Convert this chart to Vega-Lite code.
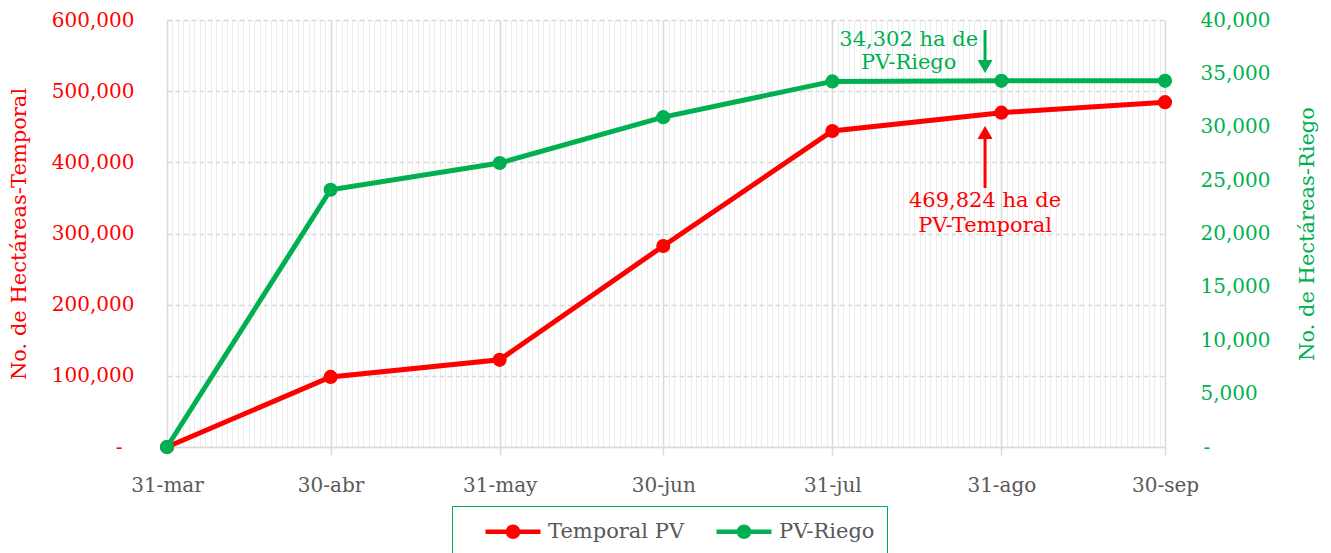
{
  "$schema": "https://vega.github.io/schema/vega-lite/v6.json",
  "width": 998,
  "height": 427,
  "padding": {"left": 8, "top": 10, "right": 2, "bottom": 0},
  "config": {"font": "DejaVu Serif", "view": {"stroke": null}, "axis": {"titleFontWeight": "normal"}},
  "datasets": {
    "temporal": [
      {"fecha": "2023-03-31", "serie": "Temporal PV", "valor": 0},
      {"fecha": "2023-04-30", "serie": "Temporal PV", "valor": 98500},
      {"fecha": "2023-05-31", "serie": "Temporal PV", "valor": 122500},
      {"fecha": "2023-06-30", "serie": "Temporal PV", "valor": 282500},
      {"fecha": "2023-07-31", "serie": "Temporal PV", "valor": 444000},
      {"fecha": "2023-08-31", "serie": "Temporal PV", "valor": 469824},
      {"fecha": "2023-09-30", "serie": "Temporal PV", "valor": 484500}
    ],
    "riego": [
      {"fecha": "2023-03-31", "serie": "PV-Riego", "valor": 0},
      {"fecha": "2023-04-30", "serie": "PV-Riego", "valor": 24100},
      {"fecha": "2023-05-31", "serie": "PV-Riego", "valor": 26600},
      {"fecha": "2023-06-30", "serie": "PV-Riego", "valor": 30900},
      {"fecha": "2023-07-31", "serie": "PV-Riego", "valor": 34250},
      {"fecha": "2023-08-31", "serie": "PV-Riego", "valor": 34302},
      {"fecha": "2023-09-30", "serie": "PV-Riego", "valor": 34302}
    ],
    "notaTemporal": [{"fecha": "2023-08-28", "valor": 345700, "texto": "469,824 ha de|PV-Temporal"}],
    "flechaTemporal": [{"fecha": "2023-08-28", "valor": 363900, "valor2": 441900}],
    "notaRiego": [{"fecha": "2023-08-14", "valor": 38130, "texto": "34,302 ha de|PV-Riego"}],
    "flechaRiego": [{"fecha": "2023-08-28", "valor": 39060, "valor2": 35650}]
  },
  "encoding": {
    "x": {
      "field": "fecha",
      "type": "temporal",
      "scale": {"type": "utc", "domain": [{"year": 2023, "month": 3, "date": 31, "utc": true}, {"year": 2023, "month": 9, "date": 30, "utc": true}]},
      "axis": {
        "title": null,
        "tickCount": {"interval": "day", "step": 1},
        "labelExpr": "utcdate(time(datum.value) + 86400000) == 1 ? (utcdate(datum.value) + '-' + ['ene','feb','mar','abr','may','jun','jul','ago','sep','oct','nov','dic'][utcmonth(datum.value)]) : ''",
        "labelOverlap": false,
        "labelFlush": false,
        "labelBound": false,
        "labelFontSize": 20,
        "labelColor": "#595959",
        "labelPadding": 20,
        "gridColor": {"condition": {"test": "utcdate(time(datum.value) + 86400000) == 1", "value": "#d9d9d9"}, "value": "#ececec"},
        "gridWidth": {"condition": {"test": "utcdate(time(datum.value) + 86400000) == 1", "value": 1.5}, "value": 1},
        "tickColor": {"condition": {"test": "utcdate(time(datum.value) + 86400000) == 1", "value": "#d9d9d9"}, "value": "transparent"},
        "tickSize": 8,
        "tickWidth": 1.5,
        "domainColor": "#d9d9d9",
        "domainWidth": 1.5
      }
    }
  },
  "layer": [
    {
      "encoding": {
        "y": {
          "field": "valor",
          "type": "quantitative",
          "scale": {"domain": [0, 600000], "nice": false},
          "axis": {
            "orient": "left",
            "title": "No. de Hectáreas-Temporal",
            "titleColor": "#FF0000",
            "titleFontSize": 21,
            "titlePadding": 22,
            "values": [0, 100000, 200000, 300000, 400000, 500000, 600000],
            "labelExpr": "datum.value == 0 ? '-' : format(datum.value, ',')",
            "labelColor": "#FF0000",
            "labelFontSize": 20,
            "labelPadding": {"condition": {"test": "datum.value == 0", "value": 45}, "value": 33},
            "ticks": false,
            "domain": false,
            "gridColor": "#d9d9d9",
            "gridDash": [5, 3],
            "gridWidth": 1.5
          }
        }
      },
      "layer": [
        {
          "data": {"name": "temporal"},
          "mark": {"type": "line", "strokeWidth": 5, "point": {"filled": true, "size": 200, "opacity": 1}},
          "encoding": {
            "color": {
              "field": "serie",
              "type": "nominal",
              "scale": {"domain": ["Temporal PV", "PV-Riego"], "range": ["#FF0000", "#00B050"]},
              "legend": {
                "orient": "none",
                "legendX": 285,
                "legendY": 486,
                "direction": "horizontal",
                "title": null,
                "labelFontSize": 21,
                "labelColor": "#595959",
                "labelOffset": 57,
                "symbolType": "M0.727,0H5.727M2.772,0a0.455,0.455 0 1,0 0.91,0a0.455,0.455 0 1,0 -0.91,0",
                "symbolSize": 484,
                "symbolStrokeWidth": 4.5,
                "strokeColor": "#00B050",
                "padding": 12,
                "columnPadding": 10,
                "encode": {"symbols": {"update": {"fill": {"scale": "color", "field": "value"}, "stroke": {"scale": "color", "field": "value"}, "opacity": {"value": 1}}}}
              }
            }
          }
        },
        {
          "data": {"name": "notaTemporal"},
          "mark": {"type": "text", "color": "#FF0000", "fontSize": 21, "lineBreak": "|", "lineHeight": 25, "align": "center", "baseline": "middle"},
          "encoding": {"text": {"field": "texto", "type": "nominal"}}
        },
        {
          "data": {"name": "flechaTemporal"},
          "mark": {"type": "rule", "color": "#FF0000", "strokeWidth": 3},
          "encoding": {"y2": {"field": "valor2"}}
        },
        {
          "data": {"name": "flechaTemporal"},
          "mark": {"type": "point", "shape": "triangle-up", "filled": true, "size": 225, "color": "#FF0000", "opacity": 1},
          "encoding": {"y": {"field": "valor2", "type": "quantitative"}}
        }
      ]
    },
    {
      "encoding": {
        "y": {
          "field": "valor",
          "type": "quantitative",
          "scale": {"domain": [0, 40000], "nice": false},
          "axis": {
            "orient": "right",
            "title": "No. de Hectáreas-Riego",
            "titleColor": "#00B050",
            "titleFontSize": 21,
            "titleAngle": 270,
            "titlePadding": 48,
            "values": [0, 5000, 10000, 15000, 20000, 25000, 30000, 35000, 40000],
            "labelExpr": "datum.value == 0 ? '-' : format(datum.value, ',')",
            "labelColor": "#00B050",
            "labelFontSize": 20,
            "labelPadding": {"condition": {"test": "datum.value == 0", "value": 38}, "value": 35},
            "ticks": false,
            "domain": false,
            "grid": false
          }
        }
      },
      "layer": [
        {
          "data": {"name": "riego"},
          "mark": {"type": "line", "strokeWidth": 5, "point": {"filled": true, "size": 200, "opacity": 1}},
          "encoding": {"color": {"field": "serie", "type": "nominal"}}
        },
        {
          "data": {"name": "notaRiego"},
          "mark": {"type": "text", "color": "#00B050", "fontSize": 21, "lineBreak": "|", "lineHeight": 23, "align": "center", "baseline": "middle"},
          "encoding": {"text": {"field": "texto", "type": "nominal"}}
        },
        {
          "data": {"name": "flechaRiego"},
          "mark": {"type": "rule", "color": "#00B050", "strokeWidth": 3},
          "encoding": {"y2": {"field": "valor2"}}
        },
        {
          "data": {"name": "flechaRiego"},
          "mark": {"type": "point", "shape": "triangle-down", "filled": true, "size": 225, "color": "#00B050", "opacity": 1},
          "encoding": {"y": {"field": "valor2", "type": "quantitative"}}
        }
      ]
    }
  ],
  "resolve": {"scale": {"y": "independent"}}
}
